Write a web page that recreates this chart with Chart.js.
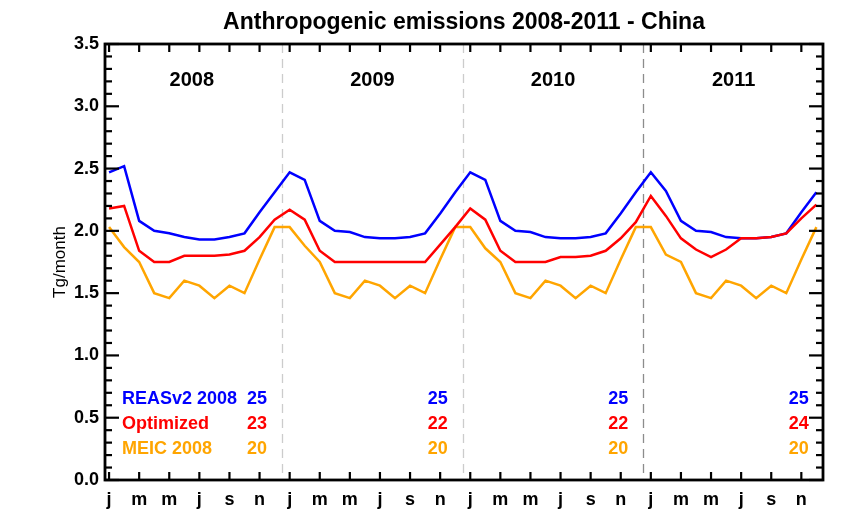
<!DOCTYPE html>
<html>
<head>
<meta charset="utf-8">
<script src="https://cdn.jsdelivr.net/npm/chart.js@4.4.1/dist/chart.umd.min.js"></script>
<style>
  html, body { margin: 0; padding: 0; background: #ffffff; }
  #wrap { width: 842px; height: 532px; }
</style>
</head>
<body>
<div id="wrap"><canvas id="chart"></canvas></div>
<script>
const FONT = "'Liberation Sans', Arial, Helvetica, sans-serif";
const BLUE = '#0000ff';
const RED = '#ff0000';
const ORANGE = '#ffa500';

// axis labels
const monthLetters = ['j', 'm', 'm', 'j', 's', 'n'];
const years = ['2008', '2009', '2010', '2011'];

// monthly emissions, Jan 2008 .. Dec 2011 (Tg/month)
const reas = [
  2.47, 2.52, 2.08, 2.00, 1.98, 1.95, 1.93, 1.93, 1.95, 1.98, 2.15, 2.31,
  2.47, 2.41, 2.08, 2.00, 1.99, 1.95, 1.94, 1.94, 1.95, 1.98, 2.14, 2.31,
  2.47, 2.41, 2.08, 2.00, 1.99, 1.95, 1.94, 1.94, 1.95, 1.98, 2.14, 2.31,
  2.47, 2.32, 2.08, 2.00, 1.99, 1.95, 1.94, 1.94, 1.95, 1.98, 2.15, 2.31
];
const optimized = [
  2.18, 2.20, 1.84, 1.75, 1.75, 1.80, 1.80, 1.80, 1.81, 1.84, 1.95, 2.09,
  2.17, 2.09, 1.84, 1.75, 1.75, 1.75, 1.75, 1.75, 1.75, 1.75, 1.89, 2.03,
  2.18, 2.09, 1.84, 1.75, 1.75, 1.75, 1.79, 1.79, 1.80, 1.84, 1.94, 2.07,
  2.28, 2.12, 1.94, 1.85, 1.79, 1.85, 1.94, 1.94, 1.95, 1.98, 2.10, 2.21
];
const meic = [
  2.03, 1.87, 1.75, 1.50, 1.46, 1.60, 1.56, 1.46, 1.56, 1.50, 1.77, 2.03,
  2.03, 1.88, 1.75, 1.50, 1.46, 1.60, 1.56, 1.46, 1.56, 1.50, 1.77, 2.03,
  2.03, 1.86, 1.75, 1.50, 1.46, 1.60, 1.56, 1.46, 1.56, 1.50, 1.77, 2.03,
  2.03, 1.81, 1.75, 1.50, 1.46, 1.60, 1.56, 1.46, 1.56, 1.50, 1.77, 2.03
];

// yearly totals printed in the plot (Tg/yr)
const reasTotals = ['25', '25', '25', '25'];
const optTotals = ['23', '22', '22', '24'];
const meicTotals = ['20', '20', '20', '20'];

const toPoints = (arr) => arr.map((v, i) => ({ x: i, y: v }));

// dashed year separators, the last one is darker in the original
const breakColors = ['#cccccc', '#cccccc', '#8c8c8c'];

const legendRows = [
  { name: 'REASv2 2008', color: BLUE, totals: reasTotals, dy: 81 },
  { name: 'Optimized', color: RED, totals: optTotals, dy: 56 },
  { name: 'MEIC 2008', color: ORANGE, totals: meicTotals, dy: 31 }
];

function line(ctx, x1, y1, x2, y2) {
  ctx.beginPath();
  ctx.moveTo(x1, y1);
  ctx.lineTo(x2, y2);
  ctx.stroke();
}

const idlFrame = {
  id: 'idlFrame',
  beforeDatasetsDraw(chart) {
    const { ctx, chartArea: a, scales: { x } } = chart;
    ctx.save();
    ctx.lineWidth = 1.3;
    ctx.setLineDash([9, 6]);
    breakColors.forEach((c, k) => {
      const px = Math.round(x.getPixelForValue(12 * (k + 1) - 0.5)) + 0.5;
      ctx.strokeStyle = c;
      line(ctx, px, a.top, px, a.bottom);
    });
    ctx.restore();
  },
  afterDatasetsDraw(chart) {
    const { ctx, chartArea: a, scales: { x } } = chart;
    ctx.save();
    ctx.fillStyle = '#000';
    ctx.font = `bold 20px ${FONT}`;
    ctx.textAlign = 'center';
    ctx.textBaseline = 'middle';
    years.forEach((yr, k) => {
      ctx.fillText(yr, x.getPixelForValue(12 * k + 5.5), a.top + 36);
    });

    ctx.font = `bold 18px ${FONT}`;
    legendRows.forEach(row => {
      const py = a.bottom - row.dy;
      ctx.fillStyle = row.color;
      ctx.textAlign = 'left';
      ctx.fillText(row.name, a.left + 17, py);
      ctx.textAlign = 'right';
      row.totals.forEach((t, k) => {
        ctx.fillText(t, x.getPixelForValue(12 * k + 10.5), py);
      });
    });
    ctx.restore();
  },
  afterDraw(chart) {
    const { ctx, chartArea: a, scales: { x, y } } = chart;
    ctx.save();
    ctx.strokeStyle = '#000';
    ctx.lineWidth = 2.2;
    // inward ticks on all four sides
    for (let i = 0; i <= 35; i++) {
      const py = y.getPixelForValue(i / 10);
      const len = i % 5 === 0 ? 14 : 7;
      line(ctx, a.left, py, a.left + len, py);
      line(ctx, a.right, py, a.right - len, py);
    }
    x.ticks.forEach(t => {
      const px = x.getPixelForValue(t.value);
      line(ctx, px, a.bottom, px, a.bottom - 8);
      line(ctx, px, a.top, px, a.top + 8);
    });
    ctx.lineWidth = 2.8;
    ctx.strokeRect(a.left, a.top, a.right - a.left, a.bottom - a.top);
    ctx.restore();
  }
};

new Chart(document.getElementById('chart'), {
  type: 'line',
  data: {
    datasets: [
      { label: 'REASv2 2008', data: toPoints(reas), borderColor: BLUE, order: 2 },
      { label: 'Optimized', data: toPoints(optimized), borderColor: RED, order: 0 },
      { label: 'MEIC 2008', data: toPoints(meic), borderColor: ORANGE, order: 1 }
    ]
  },
  options: {
    responsive: true,
    maintainAspectRatio: false,
    devicePixelRatio: 1,
    animation: false,
    datasets: {
      line: { borderWidth: 2.5, pointRadius: 0, tension: 0, fill: false }
    },
    layout: { padding: { left: 0, right: 19, top: 0, bottom: 0 } },
    scales: {
      x: {
        type: 'linear',
        min: -0.27,
        max: 47.44,
        grid: { display: false, drawTicks: false },
        border: { display: false },
        afterBuildTicks(scale) {
          scale.ticks = Array.from({ length: 24 }, (_, i) => ({ value: i * 2 }));
        },
        ticks: {
          autoSkip: false,
          maxRotation: 0,
          padding: 9,
          color: '#000',
          font: { family: FONT, size: 18, weight: 'bold' },
          callback: (v) => monthLetters[(v % 12) / 2]
        },
        afterFit(scale) { scale.height = 52; }
      },
      y: {
        min: 0,
        max: 3.5,
        grid: { display: false, drawTicks: false },
        border: { display: false },
        ticks: {
          stepSize: 0.5,
          padding: 6,
          color: '#000',
          font: { family: FONT, size: 18, weight: 'bold' },
          callback: (v) => v.toFixed(1)
        },
        title: {
          display: true,
          text: 'Tg/month',
          color: '#000',
          font: { family: FONT, size: 17 },
          padding: { top: 50, bottom: 0 }
        },
        afterFit(scale) { scale.width = 105; }
      }
    },
    plugins: {
      legend: { display: false },
      tooltip: { enabled: false },
      title: {
        display: true,
        fullSize: false,
        text: 'Anthropogenic emissions 2008-2011 - China',
        color: '#000',
        font: { family: FONT, size: 23, weight: 'bold' },
        padding: { top: 9, bottom: 7.4 }
      }
    }
  },
  plugins: [idlFrame]
});
</script>
</body>
</html>
